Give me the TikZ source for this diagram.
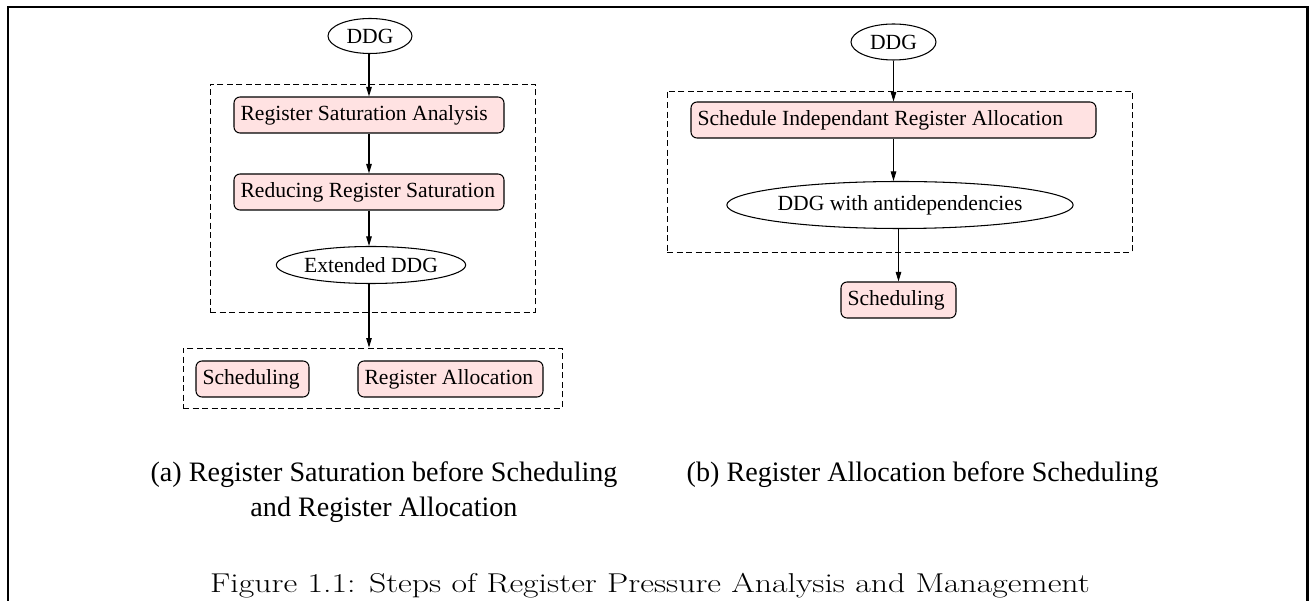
\documentclass[tikz,border=0pt]{standalone}
\usepackage{fontspec}
\usepackage{graphicx}
\usetikzlibrary{positioning,arrows.meta,shapes}
\newfontfamily\timesfont{Liberation Serif}
\definecolor{stepfill}{RGB}{255,226,226}

\begin{document}
\begin{tikzpicture}[
		stepbox/.style={draw, rounded corners=0.12cm, fill=stepfill, minimum height=0.72cm, inner xsep=0.13cm, inner ysep=0pt, align=flush left, font=\timesfont\fontsize{12.3}{14}\selectfont},
		dataell/.style={draw, ellipse, inner sep=0pt, font=\timesfont\fontsize{12.3}{14}\selectfont},
		group/.style={draw, line width=0.5pt, dash pattern=on 0.12cm off 0.07cm, inner sep=0pt},
		flow/.style={-{Triangle[length=0.19cm,width=0.11cm]}},
		subcap/.style={font=\timesfont\fontsize{16}{19.8}\selectfont, align=center},
		line width=0.6pt]
			\useasboundingbox (0, 0) rectangle (26.2, -12.02);
			\draw[line width=1.2pt] (0.16, -12.02) -- (0.16, -0.14) -- (26.15, -0.14) -- (26.15, -12.02);
			
			%%register saturation%%
			\node[group, minimum width=6.5cm, minimum height=4.56cm] (grpa) at (7.45, -3.96) {};
			\node[group, minimum width=7.58cm, minimum height=1.2cm] (grpb) at (7.45, -7.56) {};
			
			\node[dataell, minimum width=1.68cm, minimum height=0.7cm] (ddga) at (7.4, -0.72) {DDG};
			\node[stepbox, text width=5.14cm] (rsa) at (7.38, -2.3) {Register Saturation Analysis};
			\node[stepbox, text width=5.14cm] (rrs) at (7.38, -3.84) {Reducing Register Saturation};
			\node[dataell, minimum width=3.62cm, minimum height=0.74cm] (exta) at (7.42, -5.3) {Extended DDG};
			\node[stepbox, text width=2cm] (scha) at (5.05, -7.58) {Scheduling};
			\node[stepbox, text width=3.44cm] (rega) at (9.01, -7.58) {Register Allocation};
			
			\draw[flow] (ddga.south -| rsa.north) -- (rsa.north);
			\draw[flow] (rsa) -- (rrs);
			\draw[flow] (rrs.south) -- (rrs.south |- exta.north);
			\draw[flow] (exta.south -| rrs.south) -- (rrs.south |- grpb.north);
			
			%%register allocation%%
			\node[group, minimum width=9.3cm, minimum height=3.22cm] (grpc) at (17.99, -3.43) {};
			
			\node[dataell, minimum width=1.7cm, minimum height=0.72cm] (ddgb) at (17.87, -0.84) {DDG};
			\node[stepbox, text width=7.84cm] (sira) at (17.87, -2.4) {Schedule Independant Register Allocation};
			\node[dataell, minimum width=6.14cm, minimum height=0.94cm] (anti) at (18, -4.1) {DDG with antidependencies};
			\node[stepbox, text width=2.04cm] (schb) at (17.97, -6) {Scheduling};
			
			\draw[flow] (ddgb) -- (sira);
			\draw[flow] (sira.south) -- (sira.south |- anti.north);
			\draw[flow] (anti.south -| schb.north) -- (schb.north);
			
			%%captions%%
			\node[subcap] (capa) at (7.68, -9.84) {(a) Register Saturation before Scheduling\\and Register Allocation};
			\node[subcap] (capb) at (18.45, -9.49) {(b) Register Allocation before Scheduling};
			\node (figcap) at (13, -11.72) {\scalebox{1.24}[1]{\fontsize{15.5}{18}\selectfont Figure 1.1: Steps of Register Pressure Analysis and Management}};
		\end{tikzpicture}
\end{document}
